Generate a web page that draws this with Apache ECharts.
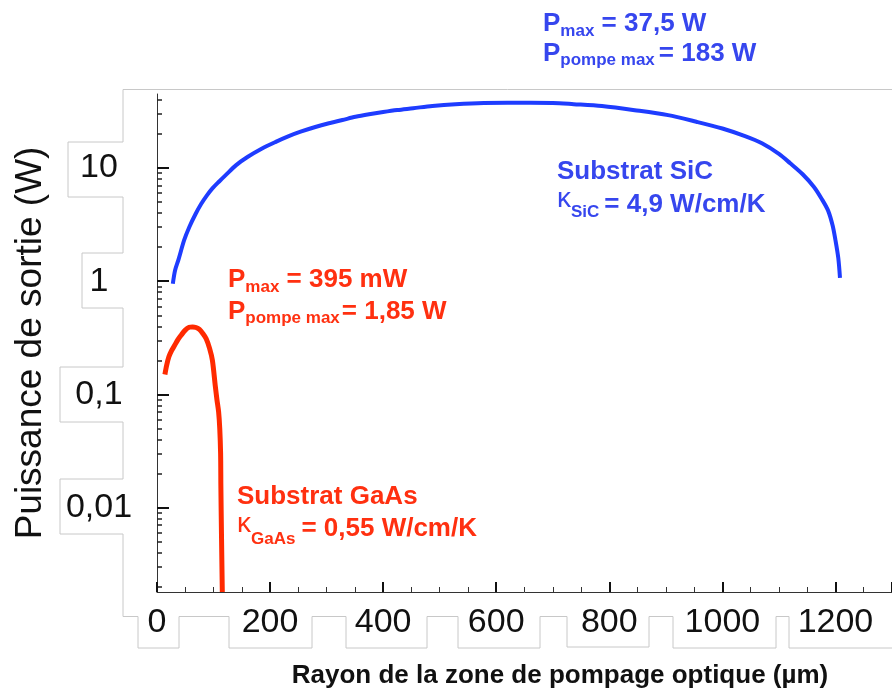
<!DOCTYPE html>
<html>
<head>
<meta charset="utf-8">
<script src="https://cdn.jsdelivr.net/npm/echarts@6/dist/echarts.min.js"></script>
<style>
  html, body { margin: 0; padding: 0; background: #fff; }
  #chart { width: 892px; height: 691px; }
</style>
</head>
<body>
<div id="chart"></div>
<script>
// SiC substrate: pump radius (µm) vs output power (W)
const sicRadius = [28, 32, 38, 48, 57, 68, 78, 88, 98, 110, 121, 140, 160, 185, 210, 232, 254, 280, 304, 328, 351, 375, 400, 425, 453, 487, 528, 578, 620, 660, 700, 737, 787, 845, 904, 954, 1000, 1040, 1070, 1100, 1120, 1142, 1162, 1176, 1187, 1195, 1200, 1205, 1208];
const sicPower = [0.95, 1.25, 1.55, 2.3, 3.0, 3.9, 4.8, 5.7, 6.6, 7.6, 8.6, 10.6, 12.5, 14.8, 17.0, 19.0, 20.9, 23.0, 24.8, 26.5, 28.3, 29.8, 31.2, 32.5, 33.7, 35.3, 36.6, 37.5, 37.6, 37.6, 37.5, 36.6, 35.2, 32.4, 29.3, 25.6, 22.3, 19.1, 16.5, 13.3, 11.0, 8.8, 6.8, 5.3, 4.2, 3.1, 2.3, 1.6, 1.07];

// GaAs substrate
const gaasRadius = [14, 17, 21, 26, 31, 37, 43, 50, 57, 63, 69, 75, 81, 87, 93, 98, 103, 106, 109, 111, 112.5, 113, 114, 115.5];
const gaasPower = [0.15, 0.18, 0.215, 0.245, 0.27, 0.305, 0.335, 0.37, 0.392, 0.395, 0.39, 0.375, 0.345, 0.31, 0.255, 0.2, 0.12, 0.09, 0.07, 0.05, 0.03, 0.015, 0.006, 0.0018];

const yMajor = [0.01, 0.1, 1, 10];
const yMajorLabels = ['0,01', '0,1', '1', '10'];
const yMinor = [
  0.002, 0.003, 0.004, 0.005, 0.006, 0.007, 0.008, 0.009,
  0.02, 0.03, 0.04, 0.05, 0.06, 0.07, 0.08, 0.09,
  0.2, 0.3, 0.4, 0.5, 0.6, 0.7, 0.8, 0.9,
  2, 3, 4, 5, 6, 7, 8, 9,
  20, 30, 40
];

const FONT = '"Liberation Sans", Arial, sans-serif';
const BLUE = '#1e3cff';
const BLUE_TXT = '#3646ee';
const RED = '#ff2a00';
const RED_TXT = '#ff3010';

const yMin = 0.0018;
const yMax = 45;

const chart = echarts.init(document.getElementById('chart'));

// text measuring for subscripted annotations
const mctx = document.createElement('canvas').getContext('2d');
function textWidth(str, font) {
  mctx.font = font;
  return mctx.measureText(str).width;
}

// parts: [text, size, bold, baselineShift, gapAfter]
function annot(x, base, parts, color) {
  const els = [];
  let cx = x;
  parts.forEach(p => {
    const font = (p[2] ? 'bold ' : '') + p[1] + 'px ' + FONT;
    const b = base + (p[3] || 0);
    els.push({
      type: 'text',
      x: cx,
      y: b - 0.3465 * p[1],
      silent: true,
      style: { text: p[0], font: font, fill: color, align: 'left', verticalAlign: 'middle' }
    });
    cx += textWidth(p[0], font) + (p[4] || 0);
  });
  return els;
}

// light grey stepped outline around the tick labels
const outline = [
  [892, 89.5], [123, 89.5], [123, 142], [68, 142], [68, 197], [123, 197], [123, 253], [82, 253],
  [82, 308], [123, 308], [123, 367], [60, 367], [60, 422], [123, 422], [123, 479], [60, 479],
  [60, 534], [123, 534], [123, 616.5], [138, 616.5], [138, 648], [179, 648], [179, 616.5],
  [229, 616.5], [229, 648], [312, 648], [312, 616.5], [346, 616.5], [346, 648], [427, 648],
  [427, 616.5], [458, 616.5], [458, 648], [540, 648], [540, 616.5], [567, 616.5], [567, 647],
  [649, 647], [649, 616.5], [673, 616.5], [673, 648], [776, 648], [776, 616.5], [789, 616.5],
  [789, 648], [892, 648]
];

const graphics = [
  {
    type: 'polyline', silent: true, z: -1,
    shape: { points: outline },
    style: { stroke: '#c8c8c8', lineWidth: 1, fill: null }
  },
  {
    type: 'text', x: 560, y: 676, silent: true,
    style: {
      text: 'Rayon de la zone de pompage optique (µm)',
      font: 'bold 26px ' + FONT, fill: '#111', align: 'center', verticalAlign: 'middle'
    }
  }
].concat(
  annot(543, 33, [['P', 26, true], ['max', 17, true, 4], [' = 37,5 W', 26, true]], BLUE_TXT),
  annot(543, 63, [['P', 26, true], ['pompe max', 17, true, 3, 4], ['= 183 W', 26, true]], BLUE_TXT),
  annot(557, 181, [['Substrat SiC', 26, true]], BLUE_TXT),
  annot(557, 208, [['κ', 28, false, 1, 0], ['SiC', 17, true, 10, 5], ['= 4,9 W/cm/K', 26, true, 6]], BLUE_TXT),
  annot(228, 289, [['P', 26, true], ['max', 17, true, 4], [' = 395 mW', 26, true]], RED_TXT),
  annot(228, 321, [['P', 26, true], ['pompe max', 17, true, 3, 2], ['= 1,85 W', 26, true]], RED_TXT),
  annot(237, 506, [['Substrat GaAs', 26, true]], RED_TXT),
  annot(237, 533, [['κ', 28, false, 1, 0], ['GaAs', 17, true, 12, 6], ['= 0,55 W/cm/K', 26, true, 5]], RED_TXT)
);

const option = {
  animation: false,
  backgroundColor: '#fff',
  textStyle: { fontFamily: FONT },
  grid: { left: 157, right: -3, top: 94, bottom: 99 },
  xAxis: {
    type: 'value',
    min: 0,
    max: 1300,
    interval: 200,
    axisLine: { lineStyle: { color: '#333', width: 1 } },
    axisTick: { inside: true, length: 10, lineStyle: { color: '#111', width: 2 } },
    minorTick: { show: true, splitNumber: 4, length: 5, lineStyle: { color: '#333', width: 1 } },
    axisLabel: { fontSize: 34, color: '#111', margin: 14, showMaxLabel: false, formatter: v => String(v) },
    splitLine: { show: false }
  },
  yAxis: [
    {
      type: 'log',
      logBase: 10,
      min: yMin,
      max: yMax,
      position: 'left',
      name: 'Puissance de sortie (W)',
      nameLocation: 'middle',
      nameGap: 108,
      nameTextStyle: { fontSize: 37, color: '#111', fontFamily: FONT },
      axisLine: { show: true, lineStyle: { color: '#333', width: 1 } },
      axisTick: { inside: true, length: 12, lineStyle: { color: '#111', width: 2 }, customValues: yMajor },
      axisLabel: {
        customValues: yMajor,
        fontSize: 34,
        color: '#111',
        margin: 58,
        align: 'center',
        formatter: v => {
          let best = 0;
          yMajor.forEach((m, i) => {
            if (Math.abs(Math.log10(m) - Math.log10(v)) < Math.abs(Math.log10(yMajor[best]) - Math.log10(v))) best = i;
          });
          return yMajorLabels[best];
        }
      },
      splitLine: { show: false }
    },
    {
      type: 'log',
      logBase: 10,
      min: yMin,
      max: yMax,
      position: 'left',
      offset: 0,
      axisLine: { show: false },
      axisTick: { inside: true, length: 5, lineStyle: { color: '#222', width: 1.5 }, customValues: yMinor },
      axisLabel: { show: false },
      splitLine: { show: false }
    }
  ],
  series: [
    {
      name: 'Substrat SiC',
      type: 'line',
      yAxisIndex: 0,
      data: sicRadius.map((r, i) => [r, sicPower[i]]),
      showSymbol: false,
      smooth: 0.3,
      lineStyle: { color: BLUE, width: 4 },
      clip: true
    },
    {
      name: 'Substrat GaAs',
      type: 'line',
      yAxisIndex: 0,
      data: gaasRadius.map((r, i) => [r, gaasPower[i]]),
      showSymbol: false,
      smooth: 0.3,
      lineStyle: { color: RED, width: 5 },
      clip: true
    }
  ],
  graphic: graphics
};

chart.setOption(option);
</script>
</body>
</html>
